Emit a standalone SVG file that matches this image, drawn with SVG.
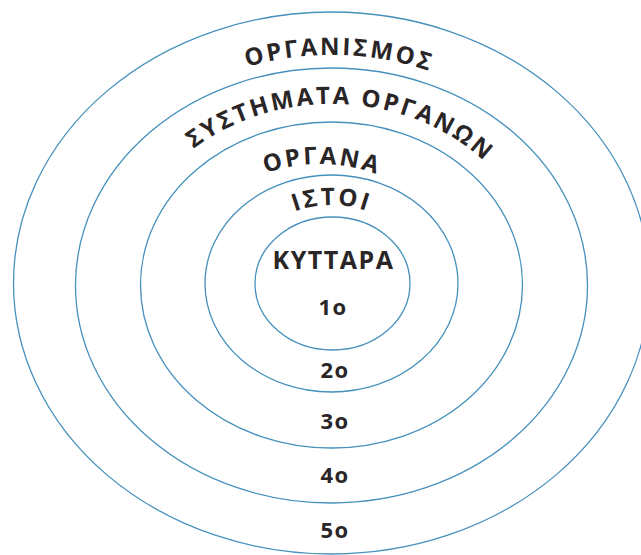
<svg xmlns="http://www.w3.org/2000/svg" xmlns:xlink="http://www.w3.org/1999/xlink" width="641" height="555" viewBox="0 0 641 555">
  <style>
    .ring { fill: none; stroke: #4590bc; stroke-width: 1.3; }
    .lbl { font-family: "Open Sans", "Liberation Sans", sans-serif; font-weight: 700; fill: #2a2627; }
    .arc { font-size: 24px; letter-spacing: 2.5px; }
    .num { font-size: 22px; letter-spacing: 1.5px; }
    .mid { text-anchor: middle; }
  </style>
  <defs>
    <path id="p5" d="M 65.5 284 A 266 229 0 0 1 597.5 284"/>
    <path id="p4" d="M 122.5 284 A 209 180 0 0 1 540.5 284"/>
    <path id="p3" d="M 180 284 A 140 120 0 0 1 460 284"/>
    <path id="p2" d="M 239.5 284 A 92 79 0 0 1 423.5 284"/>
  </defs>
  <rect width="641" height="555" fill="#ffffff"/>

  <g id="ring5">
    <ellipse class="ring" cx="331.5" cy="283" rx="318" ry="271"/>
    <text class="lbl arc mid"><textPath xlink:href="#p5" href="#p5" startOffset="51%">ΟΡΓΑΝΙΣΜΟΣ</textPath></text>
    <text class="lbl num mid" x="335" y="538">5o</text>
  </g>
  <g id="ring4">
    <ellipse class="ring" cx="331.5" cy="285.5" rx="256" ry="217.5"/>
    <text class="lbl arc mid"><textPath xlink:href="#p4" href="#p4" startOffset="51.7%">ΣΥΣΤΗΜΑΤΑ ΟΡΓΑΝΩΝ</textPath></text>
    <text class="lbl num mid" x="335" y="483">4o</text>
  </g>
  <g id="ring3">
    <ellipse class="ring" cx="331.5" cy="285" rx="191" ry="163"/>
    <text class="lbl arc mid"><textPath xlink:href="#p3" href="#p3" startOffset="50.5%">ΟΡΓΑΝΑ</textPath></text>
    <text class="lbl num mid" x="335" y="429">3o</text>
  </g>
  <g id="ring2">
    <ellipse class="ring" cx="331.5" cy="283.5" rx="126.5" ry="108.5"/>
    <text class="lbl arc mid"><textPath xlink:href="#p2" href="#p2" startOffset="50%">ΙΣΤΟΙ</textPath></text>
    <text class="lbl num mid" x="335" y="378">2o</text>
  </g>
  <g id="ring1">
    <ellipse class="ring" cx="332.5" cy="283.5" rx="77.5" ry="66.5"/>
    <text class="lbl mid" x="333.5" y="269" font-size="25" letter-spacing="1.5">ΚΥΤΤΑΡΑ</text>
    <text class="lbl num mid" x="333" y="315">1o</text>
  </g>
</svg>
